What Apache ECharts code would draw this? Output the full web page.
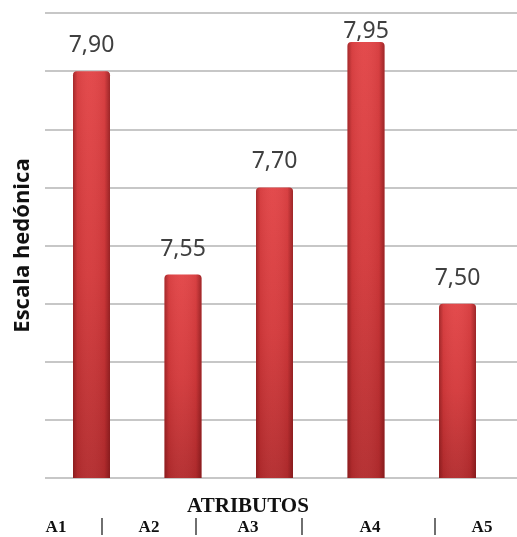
<!DOCTYPE html>
<html>
<head>
<meta charset="utf-8">
<script src="https://cdn.jsdelivr.net/npm/echarts@6/dist/echarts.min.js"></script>
<style>
  html, body { margin: 0; padding: 0; background: #ffffff; }
  #chart { width: 517px; height: 537px; }
</style>
</head>
<body>
<div id="chart"></div>
<script>
// Hedonic-scale scores per attribute
const categories = ['A1', 'A2', 'A3', 'A4', 'A5'];
const scores = [7.90, 7.55, 7.70, 7.95, 7.50];
const valueLabels = ['7,90', '7,55', '7,70', '7,95', '7,50'];

const yMin = 7.2;
const yMax = 8.0;
const yStep = 0.1;

// Attribute row printed under the chart, with its cell dividers
const rowLabels = ['A1', 'A2', 'A3', 'A4', 'A5'];
const rowLabelX = [56, 149, 248, 370, 482];
const dividerX = [102, 196, 302, 435];

const chart = echarts.init(document.getElementById('chart'), null, { renderer: 'canvas' });

const labelFont = '"Noto Sans", "Open Sans", sans-serif';

const graphics = [];
rowLabels.forEach(function (t, i) {
  graphics.push({
    type: 'text', x: rowLabelX[i], y: 528,
    style: { text: t, fill: '#111', font: 'bold 17px "Liberation Serif", serif',
             textAlign: 'center', textVerticalAlign: 'middle' }
  });
});
dividerX.forEach(function (x) {
  graphics.push({
    type: 'line', shape: { x1: x, y1: 518, x2: x, y2: 535 },
    style: { stroke: '#222', lineWidth: 1.3 }
  });
});
graphics.push({
  type: 'text', x: 248, y: 507,
  style: { text: 'ATRIBUTOS', fill: '#111', font: 'bold 21px "Liberation Serif", serif',
           textAlign: 'center', textVerticalAlign: 'middle' }
});

chart.setOption({
  animation: false,
  backgroundColor: '#ffffff',
  grid: [
    // gridline panel
    { left: 45, right: 0, top: 13, bottom: 59 },
    // bar panel
    { left: 45.75, right: 13.75, top: 13, bottom: 59 }
  ],
  xAxis: [
    { type: 'category', gridIndex: 0, data: categories, show: false },
    { type: 'category', gridIndex: 1, data: categories,
      axisLine: { show: false }, axisTick: { show: false }, axisLabel: { show: false } }
  ],
  yAxis: [
    { type: 'value', gridIndex: 0, min: yMin, max: yMax, interval: yStep,
      axisLine: { show: false }, axisTick: { show: false }, axisLabel: { show: false },
      splitLine: { show: true, lineStyle: { color: '#b4b4b4', width: 1.5 } } },
    { type: 'value', gridIndex: 1, min: yMin, max: yMax, interval: yStep,
      name: 'Escala hedónica', nameLocation: 'middle', nameGap: 12,
      nameTextStyle: { color: '#111', fontSize: 22, fontWeight: 'bold',
                       fontFamily: '"Open Sans", "Noto Sans", sans-serif' },
      axisLine: { show: false }, axisTick: { show: false }, axisLabel: { show: false },
      splitLine: { show: false } }
  ],
  series: [
    {
      type: 'bar', xAxisIndex: 1, yAxisIndex: 1,
      barWidth: 37,
      data: scores.map(function (v, i) {
        return {
          value: v,
          label: { distance: i === 3 ? -1 : 14 }
        };
      }),
      itemStyle: {
        borderRadius: [4, 4, 0, 0],
        color: new echarts.graphic.LinearGradient(0, 0, 0, 1, [
          { offset: 0, color: '#e24547' },
          { offset: 0.5, color: '#d43a3c' },
          { offset: 1, color: '#b32c2e' }
        ])
      },
      label: {
        show: true, position: 'top',
        color: '#3f3f3f', fontSize: 23, fontFamily: labelFont,
        formatter: function (p) { return valueLabels[p.dataIndex]; }
      },
      z: 2
    },
    {
      // edge shading over the same bars
      type: 'bar', xAxisIndex: 1, yAxisIndex: 1,
      barWidth: 37, barGap: '-100%',
      data: scores,
      silent: true,
      itemStyle: {
        borderRadius: [4, 4, 0, 0],
        color: new echarts.graphic.LinearGradient(0, 0, 1, 0, [
          { offset: 0, color: 'rgba(90,10,12,0.45)' },
          { offset: 0.12, color: 'rgba(90,10,12,0.08)' },
          { offset: 0.45, color: 'rgba(255,255,255,0.03)' },
          { offset: 0.85, color: 'rgba(90,10,12,0.08)' },
          { offset: 1, color: 'rgba(90,10,12,0.5)' }
        ])
      },
      z: 3
    }
  ],
  graphic: graphics
});
</script>
</body>
</html>
